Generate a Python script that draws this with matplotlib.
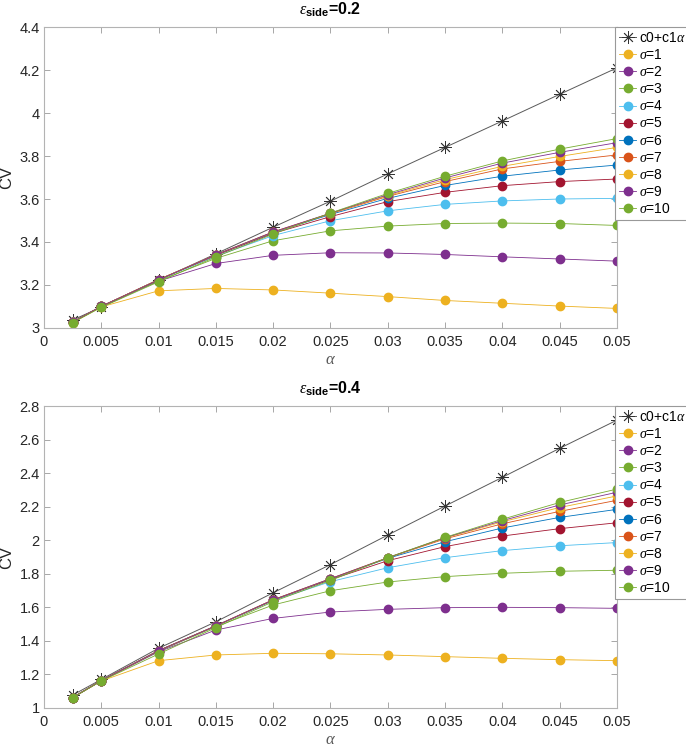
import numpy as np
import matplotlib
matplotlib.use('Agg')
import matplotlib.pyplot as plt

alpha = [0.0025, 0.005, 0.01, 0.015, 0.02, 0.025, 0.03, 0.035, 0.04, 0.045, 0.05]

# eps_side = 0.2
fit_02 = [3.037, 3.097, 3.222, 3.345, 3.469, 3.590, 3.717, 3.840, 3.963, 4.087, 4.210]
cv_02 = [
    [3.025, 3.098, 3.173, 3.184, 3.177, 3.162, 3.146, 3.128, 3.115, 3.102, 3.091],
    [3.027, 3.102, 3.218, 3.300, 3.338, 3.350, 3.349, 3.342, 3.331, 3.321, 3.311],
    [3.027, 3.100, 3.220, 3.324, 3.406, 3.452, 3.474, 3.486, 3.488, 3.486, 3.477],
    [3.027, 3.100, 3.224, 3.334, 3.430, 3.499, 3.545, 3.575, 3.591, 3.600, 3.603],
    [3.027, 3.101, 3.225, 3.338, 3.440, 3.518, 3.588, 3.631, 3.662, 3.681, 3.693],
    [3.027, 3.100, 3.225, 3.340, 3.444, 3.528, 3.603, 3.663, 3.706, 3.735, 3.758],
    [3.027, 3.100, 3.225, 3.340, 3.446, 3.532, 3.612, 3.681, 3.740, 3.775, 3.805],
    [3.027, 3.100, 3.225, 3.341, 3.447, 3.533, 3.616, 3.690, 3.752, 3.798, 3.840],
    [3.027, 3.100, 3.224, 3.341, 3.447, 3.534, 3.620, 3.698, 3.767, 3.817, 3.862],
    [3.025, 3.096, 3.215, 3.331, 3.437, 3.535, 3.626, 3.706, 3.777, 3.832, 3.881],
]

# eps_side = 0.4
fit_04 = [1.077, 1.170, 1.356, 1.514, 1.687, 1.855, 2.031, 2.204, 2.375, 2.548, 2.716]
cv_04 = [
    [1.061, 1.161, 1.282, 1.316, 1.326, 1.323, 1.316, 1.306, 1.296, 1.288, 1.282],
    [1.062, 1.163, 1.335, 1.465, 1.534, 1.572, 1.588, 1.598, 1.600, 1.598, 1.594],
    [1.062, 1.163, 1.338, 1.485, 1.614, 1.699, 1.751, 1.783, 1.803, 1.815, 1.821],
    [1.062, 1.163, 1.340, 1.488, 1.640, 1.753, 1.836, 1.896, 1.938, 1.967, 1.986],
    [1.062, 1.163, 1.341, 1.489, 1.643, 1.765, 1.878, 1.962, 2.025, 2.069, 2.104],
    [1.062, 1.163, 1.342, 1.490, 1.644, 1.768, 1.892, 1.991, 2.073, 2.136, 2.184],
    [1.062, 1.163, 1.342, 1.490, 1.645, 1.770, 1.895, 2.008, 2.098, 2.172, 2.238],
    [1.062, 1.163, 1.342, 1.490, 1.645, 1.771, 1.896, 2.013, 2.110, 2.195, 2.264],
    [1.062, 1.163, 1.342, 1.490, 1.645, 1.771, 1.896, 2.015, 2.117, 2.210, 2.286],
    [1.061, 1.161, 1.322, 1.479, 1.634, 1.760, 1.896, 2.017, 2.125, 2.225, 2.305],
]

sigmas = list(range(1, 11))
xticks = [0, 0.005, 0.01, 0.015, 0.02, 0.025, 0.03, 0.035, 0.04, 0.045, 0.05]
xticklabels = ['0', '0.005', '0.01', '0.015', '0.02', '0.025', '0.03', '0.035', '0.04', '0.045', '0.05']
yticks_02 = [3, 3.2, 3.4, 3.6, 3.8, 4, 4.2, 4.4]
yticklabels_02 = ['3', '3.2', '3.4', '3.6', '3.8', '4', '4.2', '4.4']
yticks_04 = [1, 1.2, 1.4, 1.6, 1.8, 2, 2.2, 2.4, 2.6, 2.8]
yticklabels_04 = ['1', '1.2', '1.4', '1.6', '1.8', '2', '2.2', '2.4', '2.6', '2.8']

# matlab default colour order, starting at the 3rd colour
cols = [(0.929, 0.694, 0.125), (0.494, 0.184, 0.556), (0.466, 0.674, 0.188),
        (0.301, 0.745, 0.933), (0.635, 0.078, 0.184), (0.0, 0.447, 0.741),
        (0.85, 0.325, 0.098)]

plt.rcParams['font.family'] = ['Liberation Sans', 'DejaVu Sans']
plt.rcParams['mathtext.fontset'] = 'custom'
plt.rcParams['mathtext.rm'] = 'Liberation Sans'
plt.rcParams['mathtext.bf'] = 'Liberation Sans:bold'
plt.rcParams['mathtext.it'] = 'Liberation Serif:italic'

fig = plt.figure(figsize=(6.86, 7.48), dpi=100)
ax1 = fig.add_axes([0.0641, 0.5615, 0.8353, 0.4024])
ax2 = fig.add_axes([0.0641, 0.0535, 0.8353, 0.4037])


def draw(ax, fit, cv, yt, ytl, ylim, title):
    ax.plot(alpha, fit, color='0.35', lw=0.7, marker=(8, 2, 0), ms=9,
            mec='0.2', mew=0.6, label=r'c0+c1$\alpha$')
    for i, s in enumerate(sigmas):
        c = cols[i % len(cols)]
        ax.plot(alpha, cv[i], color=c, lw=0.6, marker='o', ms=6,
                mfc=c, mec=c, label=r'$\sigma$=%d' % s)
    ax.set_xlim(0, 0.05)
    ax.set_ylim(*ylim)
    ax.set_xticks(xticks)
    ax.set_xticklabels(xticklabels)
    ax.set_yticks(yt)
    ax.set_yticklabels(ytl)
    ax.tick_params(direction='in', top=True, right=True, length=4,
                   width=0.6, color='0.6', labelsize=10.5, labelcolor='0.15')
    ax.tick_params(axis='x', pad=5)
    ax.tick_params(axis='y', pad=3)
    for sp in ax.spines.values():
        sp.set_color('0.7')
        sp.set_linewidth(0.8)
    ax.set_xlabel(r'$\alpha$', fontsize=12, color='0.35', labelpad=2)
    ax.set_ylabel('CV', fontsize=12, color='0.15', labelpad=4)
    ax.set_title(title, fontsize=11.5, fontweight='bold', pad=9)
    leg = ax.legend(loc='upper left', bbox_to_anchor=(0.997, 1.0), borderaxespad=0,
                    fontsize=10, labelspacing=0.22, handlelength=1.2,
                    handletextpad=0.2, borderpad=0.3, fancybox=False,
                    framealpha=1, edgecolor='0.6')
    leg.get_frame().set_linewidth(0.8)


draw(ax1, fit_02, cv_02, yticks_02, yticklabels_02, (3, 4.4),
     r'$\epsilon_{\mathbf{side}}$=0.2')
draw(ax2, fit_04, cv_04, yticks_04, yticklabels_04, (1, 2.8),
     r'$\epsilon_{\mathbf{side}}$=0.4')

fig.savefig('out.png', dpi=100)
